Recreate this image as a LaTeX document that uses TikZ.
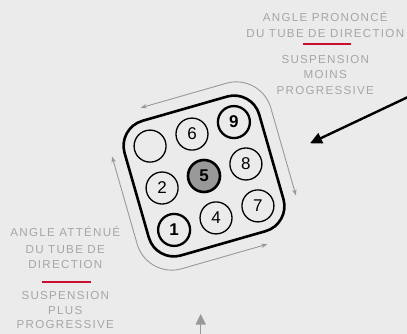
\documentclass[tikz,border=0pt]{standalone}
\usepackage{fontspec}
\setmainfont{Liberation Sans}
\newfontfamily\labelfont[LetterSpace=11]{Liberation Sans}
\newfontfamily\digitfont{Liberation Sans}
\usetikzlibrary{arrows.meta}
\definecolor{bgc}{HTML}{EBEBEB}
\definecolor{lblgray}{HTML}{A6A6A6}
\definecolor{arrgray}{HTML}{999999}
\definecolor{accentred}{HTML}{C8102E}
\definecolor{fillfive}{HTML}{999999}
\tikzset{
  lbl/.style={font=\labelfont\fontsize{11.6}{14}\selectfont, text=lblgray, anchor=base, inner sep=0pt},
  redrule/.style={draw=accentred, line width=1.6pt},
  hole/.style={circle, draw=black, line width=1.3pt, minimum size=32pt, inner sep=0pt,
    font=\digitfont\fontsize{17}{17}\selectfont},
  holethick/.style={hole, line width=2.3pt, font=\digitfont\bfseries\fontsize{17}{17}\selectfont},
  holefilled/.style={holethick, fill=fillfive, line width=2.6pt},
  plate/.style={draw=black, line width=2.6pt, rounded corners=26pt},
  travel/.style={draw=arrgray, line width=0.9pt, rounded corners=36pt,
    {Stealth[length=6pt,width=4.5pt]}-{Stealth[length=6pt,width=4.5pt]}},
  bigarrow/.style={draw=black, line width=2.4pt, -{Triangle[length=12pt,width=11pt]}},
  smallarrow/.style={draw=arrgray, line width=1.4pt, -{Triangle[length=10.5pt,width=10pt]}}
}
\begin{document}
\begin{tikzpicture}[x=1pt,y=-1pt]
\fill[bgc] (0,0) rectangle (407,334);
\useasboundingbox (0,0) rectangle (407,334);

% top-right label
\node[lbl] (t1) at (325.3,21.8) {ANGLE PRONONCÉ};
\node[lbl] (t2) at (325.3,37.9) {DU TUBE DE DIRECTION};
\coordinate (tr1) at (303,44.3);
\coordinate (tr2) at (351,44.3);
\draw[redrule] (tr1) -- (tr2);
\node[lbl] (t3) at (325.3,63.1) {SUSPENSION};
\node[lbl] (t4) at (325.3,78.4) {MOINS};
\node[lbl] (t5) at (325.3,94.1) {PROGRESSIVE};

% bottom-left label
\node[lbl] (b1) at (65.3,236.9) {ANGLE ATTÉNUÉ};
\node[lbl] (b2) at (65.3,253.1) {DU TUBE DE};
\node[lbl] (b3) at (65.3,268.1) {DIRECTION};
\coordinate (br1) at (42.3,281.7);
\coordinate (br2) at (90.7,281.7);
\draw[redrule] (br1) -- (br2);
\node[lbl] (b4) at (65.3,299.3) {SUSPENSION};
\node[lbl] (b5) at (65.3,314.3) {PLUS};
\node[lbl] (b6) at (65.3,328.9) {PROGRESSIVE};

% rotated plate
\begin{scope}[shift={(204,176)}, rotate=16]
  \draw[plate] (-70,-70) rectangle (70,70);
  \coordinate (ga) at (-42,-83);
  \coordinate (gb) at (83,-83);
  \coordinate (gc) at (83,44);
  \coordinate (gd) at (-83,-44);
  \coordinate (ge) at (-83,83);
  \coordinate (gf) at (42,83);
  \draw[travel] (ga) -- (gb) -- (gc);
  \draw[travel] (gd) -- (ge) -- (gf);
  \node[hole] (h0) at (-43.6,-43.6) {};
  \node[hole] (h6) at (0,-43.6) {6};
  \node[holethick] (h9) at (43.6,-43.6) {9};
  \node[hole] (h2) at (-43.6,0) {2};
  \node[holefilled] (h5) at (0,0) {5};
  \node[hole] (h8) at (43.6,0) {8};
  \node[holethick] (h1) at (-43.6,43.6) {1};
  \node[hole] (h4) at (0,43.6) {4};
  \node[hole] (h7) at (43.6,43.6) {7};
\end{scope}

% big arrow
\coordinate (ba1) at (408,97);
\coordinate (ba2) at (310,143.3);
\draw[bigarrow] (ba1) -- (ba2);

% small arrow at bottom
\coordinate (sa1) at (200.7,336);
\coordinate (sa2) at (200.7,314);
\draw[smallarrow] (sa1) -- (sa2);
\end{tikzpicture}
\end{document}
